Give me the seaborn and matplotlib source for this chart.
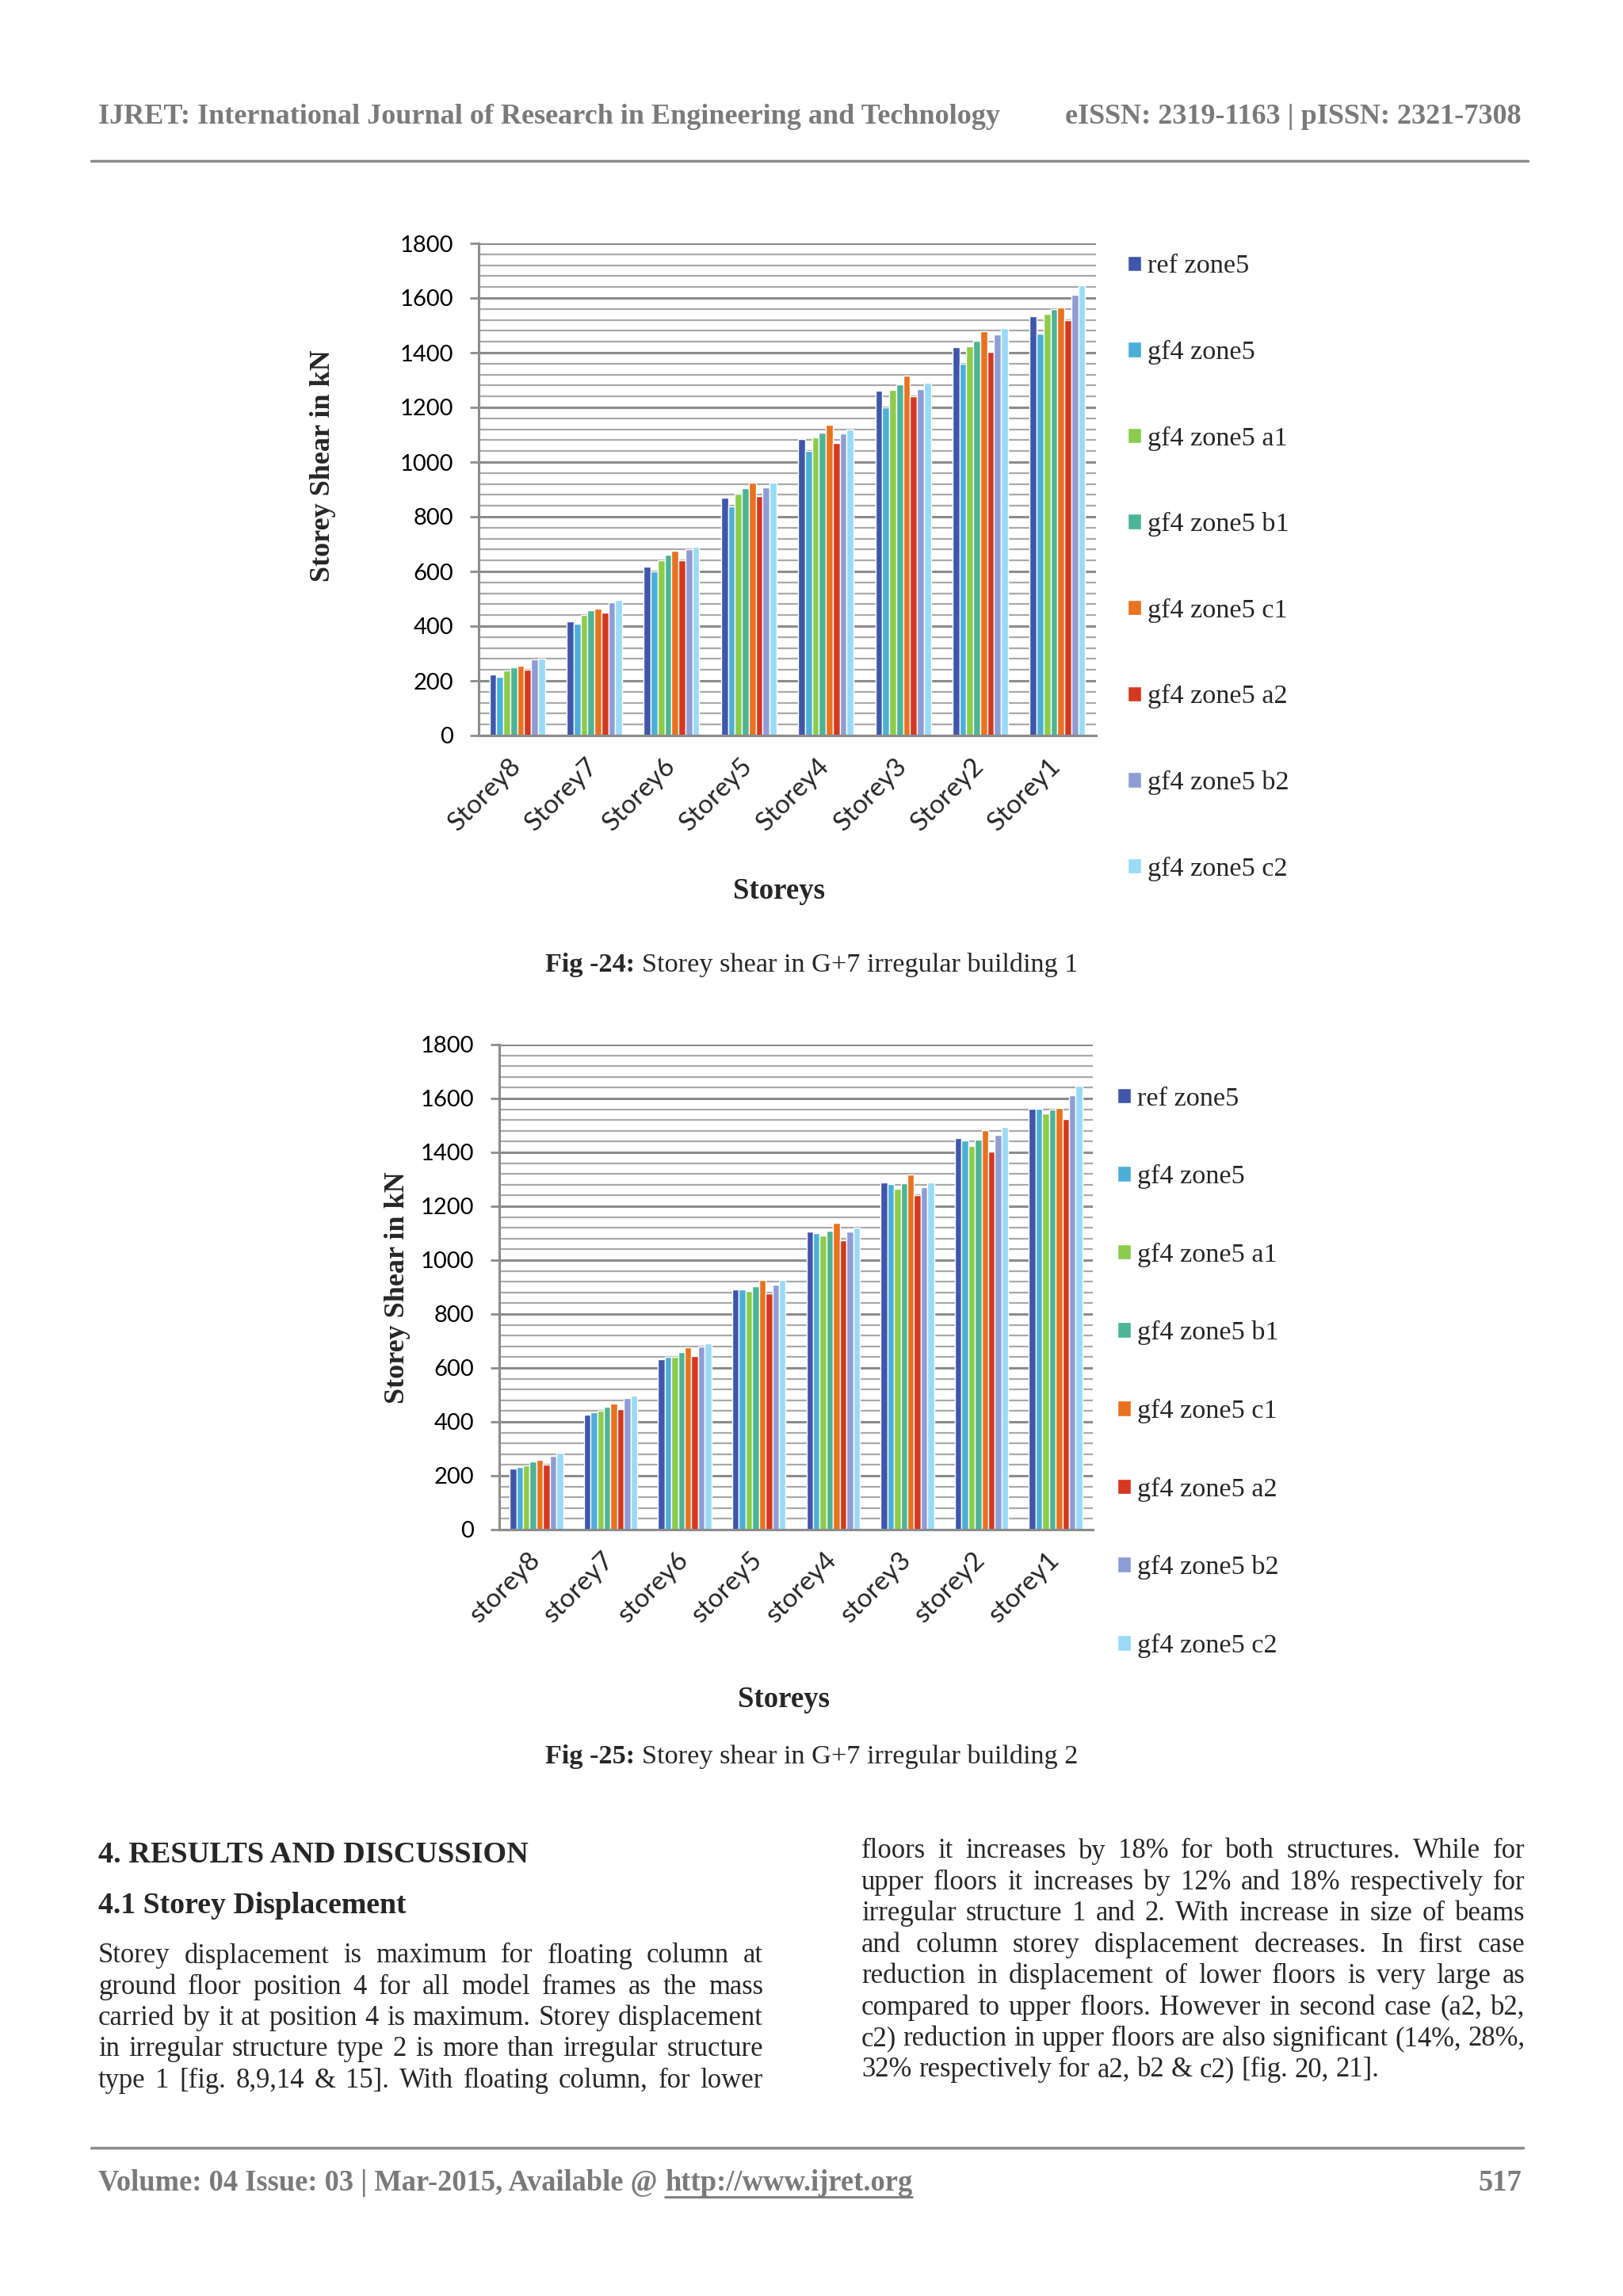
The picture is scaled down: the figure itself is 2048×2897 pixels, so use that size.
import numpy as np
import pandas as pd
import matplotlib
matplotlib.use('Agg')
import matplotlib.pyplot as plt
import seaborn as sns
from matplotlib.lines import Line2D
from matplotlib.ticker import MultipleLocator

# Dados (kN), ordem Storey8 -> Storey1
storeys_1 = ['Storey8', 'Storey7', 'Storey6', 'Storey5', 'Storey4', 'Storey3', 'Storey2', 'Storey1']
storeys_2 = ['storey8', 'storey7', 'storey6', 'storey5', 'storey4', 'storey3', 'storey2', 'storey1']
series = ['ref zone5', 'gf4 zone5', 'gf4 zone5 a1', 'gf4 zone5 b1',
          'gf4 zone5 c1', 'gf4 zone5 a2', 'gf4 zone5 b2', 'gf4 zone5 c2']
colors = ['#3F56AA', '#4BAFD8', '#8DCB4B', '#4DB495', '#E8721F', '#D4381F', '#8E9DD5', '#9ADAF6']

b1_ref = [222, 416, 617, 871, 1083, 1260, 1420, 1532]
b1_gf4 = [214, 408, 601, 839, 1040, 1200, 1360, 1470]
b1_a1 = [238, 441, 640, 884, 1089, 1264, 1422, 1541]
b1_b1 = [250, 457, 660, 904, 1107, 1283, 1443, 1559]
b1_c1 = [255, 464, 675, 925, 1136, 1317, 1478, 1566]
b1_a2 = [242, 448, 642, 875, 1071, 1240, 1404, 1520]
b1_b2 = [277, 488, 680, 907, 1105, 1267, 1466, 1611]
b1_c2 = [282, 495, 689, 924, 1120, 1289, 1490, 1645]

b2_ref = [226, 426, 632, 890, 1107, 1287, 1452, 1563]
b2_gf4 = [233, 435, 640, 892, 1100, 1281, 1443, 1563]
b2_a1 = [239, 440, 640, 885, 1092, 1264, 1425, 1543]
b2_b1 = [253, 457, 660, 904, 1110, 1286, 1446, 1560]
b2_c1 = [258, 467, 676, 926, 1139, 1317, 1482, 1566]
b2_a2 = [242, 448, 644, 876, 1075, 1241, 1404, 1523]
b2_b2 = [275, 489, 679, 909, 1105, 1270, 1465, 1612]
b2_c2 = [284, 498, 690, 926, 1122, 1289, 1493, 1648]

W, H = 2048, 2897
SERIF = 'Liberation Serif'
SANS = 'Lato'
GRAY_TXT = '#7a7a7a'

sns.set_theme(style='white')
plt.rcParams['font.family'] = [SERIF, 'DejaVu Sans']

fig = plt.figure(figsize=(W / 100, H / 100), dpi=100)
fig.patch.set_facecolor('white')


def fx(x):
    return x / W


def fy(y):
    return 1 - y / H


def long_df(storeys, cols):
    rows = []
    for name, vals in zip(series, cols):
        for st, v in zip(storeys, vals):
            rows.append({'storey': st, 'series': name, 'shear': v})
    return pd.DataFrame(rows)


def draw_chart(box, storeys, cols, legend_xy, legend_spacing, ylabel_xy, xlabel_xy):
    left, top, right, bottom = box
    ax = fig.add_axes([fx(left), fy(bottom), fx(right - left), (bottom - top) / H])
    df = long_df(storeys, cols)
    sns.barplot(data=df, x='storey', y='shear', hue='series', order=storeys,
                hue_order=series, palette=colors, saturation=1, width=0.72,
                errorbar=None, ax=ax)
    ax.set_ylim(0, 1800)
    ax.yaxis.set_major_locator(MultipleLocator(200))
    ax.yaxis.set_minor_locator(MultipleLocator(40))
    ax.grid(which='major', axis='y', color='#8c8c8c', lw=2.2)
    ax.grid(which='minor', axis='y', color='#a9a9a9', lw=1.6)
    ax.set_axisbelow(True)
    for s in ['top', 'right']:
        ax.spines[s].set_visible(False)
    for s in ['left', 'bottom']:
        ax.spines[s].set_color('#8c8c8c')
        ax.spines[s].set_linewidth(2.2)
    ax.tick_params(axis='y', which='major', direction='out', length=8, width=2,
                   color='#8c8c8c', pad=15, left=True)
    ax.tick_params(axis='y', which='minor', length=0)
    ax.tick_params(axis='x', length=0, pad=24)
    for t in ax.get_yticklabels():
        t.set_fontfamily(SANS)
        t.set_fontsize(21)
        t.set_color('black')
    for t in ax.get_xticklabels():
        t.set_fontfamily(SANS)
        t.set_fontsize(24)
        t.set_rotation(45)
        t.set_ha('right')
        t.set_va('center')
        t.set_rotation_mode('anchor')
    ax.set_xlabel('')
    ax.set_ylabel('')
    handles, labels = ax.get_legend_handles_labels()
    ax.legend(handles, labels, loc='upper left',
              bbox_to_anchor=(fx(legend_xy[0]), fy(legend_xy[1])),
              bbox_transform=fig.transFigure, frameon=False, fontsize=24.7,
              handlelength=0.5, handleheight=0.5, handletextpad=0.22,
              labelspacing=legend_spacing, borderpad=0, borderaxespad=0)
    fig.text(fx(ylabel_xy[0]), fy(ylabel_xy[1]), 'Storey Shear in kN', rotation=90,
             ha='center', va='center', fontsize=26, fontweight='bold', family=SERIF)
    fig.text(fx(xlabel_xy[0]), fy(xlabel_xy[1]), 'Storeys', ha='center', va='center',
             fontsize=26.5, fontweight='bold', family=SERIF)
    return ax


draw_chart((604, 307, 1383, 928), storeys_1,
           [b1_ref, b1_gf4, b1_a1, b1_b1, b1_c1, b1_a2, b1_b2, b1_c2],
           (1423, 321), 2.26, (408, 588), (983, 1124))
draw_chart((630, 1318, 1379, 1930), storeys_2,
           [b2_ref, b2_gf4, b2_a1, b2_b1, b2_c1, b2_a2, b2_b2, b2_c2],
           (1410, 1371), 1.97, (501, 1625), (989, 2144))

renderer = fig.canvas.get_renderer()


def text_width(s, **kw):
    t = fig.text(0, 0, s, **kw)
    w = t.get_window_extent(renderer).width
    t.remove()
    return w


def mixed_line(parts, x, y, align='left', size=24.7):
    # parts: list of (texto, peso)
    widths = [text_width(p, fontsize=size, fontweight=wt, family=SERIF) for p, wt in parts]
    if align == 'center':
        x = x - sum(widths) / 2
    for (p, wt), w in zip(parts, widths):
        fig.text(fx(x), fy(y), p, fontsize=size, fontweight=wt, family=SERIF,
                 ha='left', va='center')
        x += w


def justify(line, x0, x1, y, size=24.9, last=False):
    words = line.split()
    widths = [text_width(w, fontsize=size, family=SERIF) for w in words]
    if last:
        gap = text_width('a a', fontsize=size, family=SERIF) - text_width('aa', fontsize=size, family=SERIF)
    else:
        gap = (x1 - x0 - sum(widths)) / (len(words) - 1)
    x = x0
    for w, wd in zip(words, widths):
        fig.text(fx(x), fy(y), w, fontsize=size, family=SERIF, ha='left', va='center')
        x += wd + gap


# legendas das figuras
mixed_line([('Fig -24: ', 'bold'), ('Storey shear in G+7 irregular building 1', 'normal')],
           1024, 1217, align='center')
mixed_line([('Fig -25: ', 'bold'), ('Storey shear in G+7 irregular building 2', 'normal')],
           1024, 2217, align='center')

# cabeçalho
fig.text(fx(124), fy(147), 'IJRET: International Journal of Research in Engineering and Technology',
         fontsize=26, fontweight='bold', color=GRAY_TXT, family=SERIF, ha='left', va='center')
fig.text(fx(1920), fy(147), 'eISSN: 2319-1163 | pISSN: 2321-7308',
         fontsize=26, fontweight='bold', color=GRAY_TXT, family=SERIF, ha='right', va='center')
fig.add_artist(Line2D([fx(115), fx(1928)], [fy(203), fy(203)], color='#8c8c8c', lw=2.5))

# rodapé
fig.add_artist(Line2D([fx(115), fx(1922)], [fy(2710), fy(2710)], color='#8c8c8c', lw=2.5))
foot = 'Volume: 04 Issue: 03 | Mar-2015, Available @ '
FS = 26.3
fig.text(fx(124), fy(2755), foot, fontsize=FS, fontweight='bold', color=GRAY_TXT,
         family=SERIF, ha='left', va='center')
fw = text_width(foot, fontsize=FS, fontweight='bold', family=SERIF)
url = 'http://www.ijret.org'
uw = text_width(url, fontsize=FS, fontweight='bold', family=SERIF)
fig.text(fx(124 + fw), fy(2755), url, fontsize=FS, fontweight='bold', color=GRAY_TXT,
         family=SERIF, ha='left', va='center')
fig.add_artist(Line2D([fx(124 + fw), fx(124 + fw + uw)], [fy(2772), fy(2772)],
                      color=GRAY_TXT, lw=2))
fig.text(fx(1920), fy(2755), '517', fontsize=FS, fontweight='bold', color=GRAY_TXT,
         family=SERIF, ha='right', va='center')

# texto do artigo
fig.text(fx(124), fy(2340), '4. RESULTS AND DISCUSSION', fontsize=27.5, fontweight='bold',
         family=SERIF, ha='left', va='center')
fig.text(fx(124), fy(2405), '4.1 Storey Displacement', fontsize=27.2, fontweight='bold',
         family=SERIF, ha='left', va='center')

left_lines = [
    'Storey displacement is maximum for floating column at',
    'ground floor position 4 for all model frames as the mass',
    'carried by it at position 4 is maximum.  Storey displacement',
    'in irregular structure type 2 is more than irregular structure',
    'type 1 [fig. 8,9,14 & 15].  With floating column, for lower',
]
for i, ln in enumerate(left_lines):
    justify(ln, 124, 963, 2468 + i * 39.3)

right_lines = [
    'floors it increases by 18% for both structures.  While for',
    'upper floors it increases by 12% and 18% respectively for',
    'irregular structure 1 and 2.  With increase in size of beams',
    'and column storey displacement decreases.  In first case',
    'reduction in displacement of lower floors is very large as',
    'compared to upper floors.  However in second case (a2, b2,',
    'c2) reduction in upper floors are also significant (14%, 28%,',
    '32% respectively for a2, b2 & c2) [fig. 20, 21].',
]
for i, ln in enumerate(right_lines):
    justify(ln, 1087, 1924, 2336 + i * 39.4, last=(i == len(right_lines) - 1))

fig.savefig('out.png', dpi=100, facecolor='white')
